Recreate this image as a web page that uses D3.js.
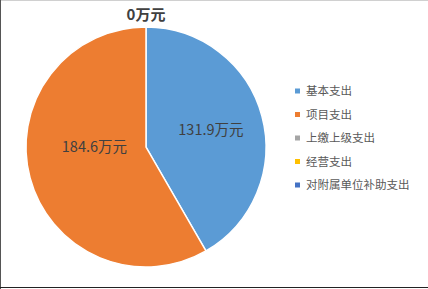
<!DOCTYPE html>
<html lang="zh">
<head>
  <meta charset="UTF-8">
  <title>支出构成</title>
  <script src="https://d3js.org/d3.v7.min.js"></script>
  <style>
    body { margin: 0; background: #fff; }
    svg { display: block; font-family: "Noto Sans CJK SC", "DejaVu Sans", sans-serif; }
  </style>
</head>
<body>
  <svg id="chart" width="428" height="289"></svg>
  <script>
    // categories and values (万元)
    const categories = ["基本支出", "项目支出", "上缴上级支出", "经营支出", "对附属单位补助支出"];
    const values = [131.9, 184.6, 0, 0, 0];
    const colors = ["#5B9BD5", "#ED7D31", "#A5A5A5", "#FFC000", "#4472C4"];

    const svg = d3.select("#chart");
    const width = 428, height = 289;

    // frame around the chart
    svg.append("line").attr("x1", 0).attr("x2", width).attr("y1", 0.5).attr("y2", 0.5)
      .attr("stroke", "#d0d0d0");
    svg.append("line").attr("x1", 0.5).attr("x2", 0.5).attr("y1", 0).attr("y2", height)
      .attr("stroke", "#555");
    svg.append("line").attr("x1", 0).attr("x2", width).attr("y1", 287.5).attr("y2", 287.5)
      .attr("stroke", "#222");

    const cx = 146, cy = 147, r = 120;
    const data = categories.map((c, i) => ({ name: c, value: values[i], color: colors[i] }));

    const pie = d3.pie().value(d => d.value).sort(null);
    const arcs = pie(data);
    const arc = d3.arc().innerRadius(0).outerRadius(r);

    const g = svg.append("g").attr("transform", `translate(${cx},${cy})`);

    g.selectAll("path")
      .data(arcs.filter(d => d.data.value > 0))
      .enter().append("path")
      .attr("d", arc)
      .attr("fill", d => d.data.color)
      .attr("stroke", "#fff")
      .attr("stroke-width", 1.5);

    // value labels inside slices ("best fit" style: big slice label sits nearer the middle)
    const labelPos = d => {
      const big = d.endAngle - d.startAngle > Math.PI;
      const a = big ? (d.startAngle + d.endAngle) / 2 + 0.26 : (d.startAngle + d.endAngle) / 2;
      const rr = big ? r * 0.43 : r * 0.56;
      return [Math.sin(a) * rr, -Math.cos(a) * rr];
    };
    g.selectAll("text.val")
      .data(arcs.filter(d => d.data.value > 0))
      .enter().append("text")
      .attr("class", "val")
      .attr("transform", d => `translate(${labelPos(d)})`)
      .attr("text-anchor", "middle")
      .attr("dy", "0.35em")
      .attr("font-size", 14.5)
      .attr("fill", "#404040")
      .text(d => d.data.value + "万元");

    // zero slices share one label at the top
    const zeros = arcs.filter(d => d.data.value === 0);
    if (zeros.length) {
      g.append("text")
        .attr("x", 0)
        .attr("y", -r - 7)
        .attr("text-anchor", "middle")
        .attr("font-size", 15)
        .attr("font-weight", "bold")
        .attr("fill", "#404040")
        .text("0万元");
    }

    // legend
    const legendY = d3.scalePoint().domain(categories).range([91, 185]);
    const legend = svg.append("g").selectAll("g")
      .data(data)
      .enter().append("g")
      .attr("transform", d => `translate(295,${legendY(d.name)})`);

    legend.append("rect")
      .attr("x", 0).attr("y", -2.5)
      .attr("width", 5).attr("height", 5)
      .attr("fill", d => d.color);

    legend.append("text")
      .attr("x", 11)
      .attr("dy", "0.35em")
      .attr("font-size", 11.5)
      .attr("fill", "#595959")
      .text(d => d.name);
  </script>
</body>
</html>
